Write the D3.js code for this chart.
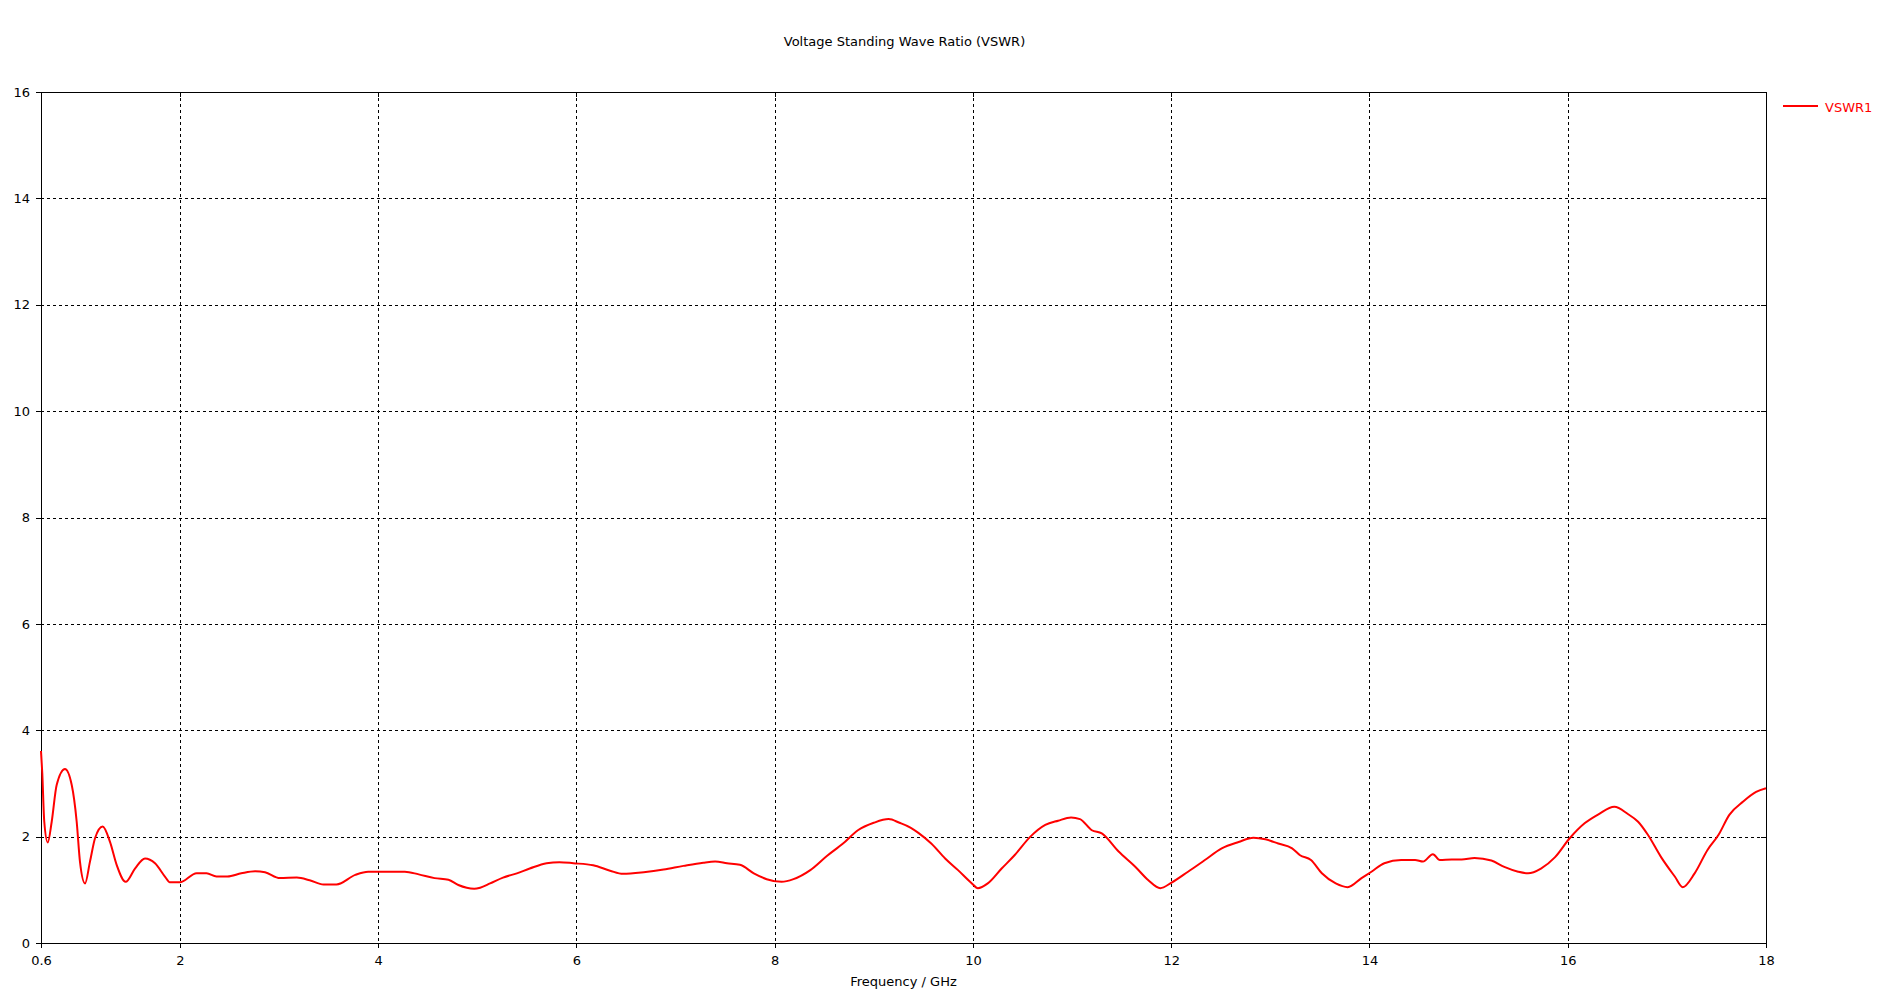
<!DOCTYPE html>
<html>
<head>
<meta charset="utf-8">
<title>VSWR</title>
<script src="https://cdn.jsdelivr.net/npm/d3@7"></script>
<style>
  html, body { margin: 0; padding: 0; background: #fff; overflow: hidden; }
  text { font-family: "DejaVu Sans", sans-serif; font-size: 13px; fill: #000; }
</style>
</head>
<body>
<div id="chart"></div>
<script>
// Values
const freqGHz = [
  0.6, 0.613, 0.633, 0.668, 0.708, 0.758, 0.842, 0.91, 0.96, 0.993,
  1.044, 1.094, 1.145, 1.222, 1.296, 1.363, 1.454, 1.548, 1.649, 1.75,
  1.85, 1.9, 2.0, 2.17, 2.27, 2.37, 2.48, 2.62, 2.76, 2.86,
  3.01, 3.18, 3.31, 3.45, 3.58, 3.77, 3.9, 4.27, 4.41, 4.57,
  4.71, 4.81, 4.97, 5.03, 5.13, 5.26, 5.4, 5.53, 5.7, 5.83,
  5.97, 6.17, 6.34, 6.47, 6.68, 6.88, 7.08, 7.28, 7.4, 7.52,
  7.65, 7.79, 7.92, 8.07, 8.19, 8.36, 8.53, 8.69, 8.84, 9.0,
  9.15, 9.26, 9.37, 9.45, 9.58, 9.72, 9.85, 9.99, 10.05, 10.15,
  10.29, 10.42, 10.58, 10.73, 10.86, 10.99, 11.08, 11.2, 11.3, 11.47,
  11.64, 11.77, 11.89, 12.0, 12.17, 12.34, 12.51, 12.68, 12.83, 12.95,
  13.08, 13.22, 13.3, 13.41, 13.52, 13.66, 13.78, 13.92, 14.02, 14.15,
  14.32, 14.46, 14.54, 14.64, 14.71, 14.83, 14.93, 15.06, 15.23, 15.36,
  15.5, 15.6, 15.73, 15.87, 16.02, 16.17, 16.31, 16.47, 16.61, 16.71,
  16.81, 16.94, 17.08, 17.16, 17.28, 17.41, 17.52, 17.63, 17.77, 17.9,
  18.0
];
const vswr1 = [
  3.61, 3.19, 2.28, 1.89, 2.28, 2.97, 3.27, 2.97, 2.28, 1.53,
  1.12, 1.53, 1.97, 2.19, 1.9, 1.47, 1.15, 1.4, 1.59, 1.5,
  1.25, 1.14, 1.14, 1.31, 1.31, 1.25, 1.25, 1.31, 1.35, 1.33,
  1.22, 1.23, 1.18, 1.1, 1.1, 1.28, 1.34, 1.34, 1.29, 1.22,
  1.19, 1.09, 1.02, 1.04, 1.12, 1.23, 1.31, 1.4, 1.5, 1.52,
  1.5, 1.46, 1.36, 1.3, 1.33, 1.38, 1.45, 1.51, 1.53, 1.5,
  1.47, 1.31, 1.2, 1.15, 1.2, 1.37, 1.64, 1.87, 2.12, 2.26,
  2.33, 2.26, 2.17, 2.07, 1.87, 1.59, 1.37, 1.12, 1.03, 1.12,
  1.4, 1.65, 2.0, 2.22, 2.3, 2.36, 2.33, 2.12, 2.06, 1.72,
  1.43, 1.18, 1.03, 1.13, 1.34, 1.56, 1.78, 1.9, 1.98, 1.95,
  1.87, 1.78, 1.65, 1.56, 1.31, 1.12, 1.05, 1.22, 1.34, 1.5,
  1.56, 1.56, 1.53, 1.67, 1.56, 1.57, 1.57, 1.6, 1.55, 1.43,
  1.34, 1.31, 1.4, 1.61, 1.97, 2.25, 2.42, 2.56, 2.42, 2.28,
  2.03, 1.62, 1.25, 1.05, 1.31, 1.75, 2.03, 2.41, 2.66, 2.84,
  2.91
];
const xTicks = [0.6, 2, 4, 6, 8, 10, 12, 14, 16, 18];
const yTicks = [0, 2, 4, 6, 8, 10, 12, 14, 16];
const seriesName = "VSWR1";

class VswrChart {
  constructor(_config) {
    this.config = {
      parentElement: _config.parentElement,
      width: 1893,
      height: 991,
      margin: { top: 92, bottom: 48, right: 127, left: 41 },
    };
    this.initVis();
  }

  initVis() {
    const vis = this;
    const c = vis.config;
    vis.innerW = c.width - c.margin.left - c.margin.right;
    vis.innerH = c.height - c.margin.top - c.margin.bottom;

    vis.svgRoot = d3
      .select(c.parentElement)
      .append("svg")
      .attr("width", c.width)
      .attr("height", c.height);

    vis.svg = vis.svgRoot
      .append("g")
      .attr("transform", `translate(${c.margin.left},${c.margin.top})`);

    vis.x = d3.scaleLinear().domain([0.6, 18]).range([0, vis.innerW]);
    vis.y = d3.scaleLinear().domain([0, 16]).range([vis.innerH, 0]);

    // Title
    vis.svgRoot
      .append("text")
      .attr("x", c.margin.left + vis.innerW / 2 + 1)
      .attr("y", 46)
      .attr("text-anchor", "middle")
      .text("Voltage Standing Wave Ratio (VSWR)");

    // X axis label, kept just inside the bottom edge
    vis.svgRoot
      .append("text")
      .attr("x", c.margin.left + vis.innerW / 2)
      .attr("y", 986)
      .attr("text-anchor", "middle")
      .text("Frequency / GHz");

    vis.updateVis();
  }

  updateVis() {
    const vis = this;

    // Dashed grid
    const grid = vis.svg.append("g").attr("class", "grid");
    grid
      .selectAll("line.vgrid")
      .data(xTicks.filter((d) => d > 0.6 && d < 18))
      .join("line")
      .attr("class", "vgrid")
      .attr("x1", (d) => Math.round(vis.x(d)) + 0.5)
      .attr("x2", (d) => Math.round(vis.x(d)) + 0.5)
      .attr("y1", 0)
      .attr("y2", vis.innerH)
      .attr("stroke", "#000")
      .attr("stroke-dasharray", "3,3")
      .attr("shape-rendering", "crispEdges");
    grid
      .selectAll("line.hgrid")
      .data(yTicks.filter((d) => d > 0 && d < 16))
      .join("line")
      .attr("class", "hgrid")
      .attr("x1", 0)
      .attr("x2", vis.innerW)
      .attr("y1", (d) => Math.round(vis.y(d)) + 0.5)
      .attr("y2", (d) => Math.round(vis.y(d)) + 0.5)
      .attr("stroke", "#000")
      .attr("stroke-dasharray", "3,3")
      .attr("shape-rendering", "crispEdges");

    // Axes
    const xAxis = vis.svg
      .append("g")
      .attr("transform", `translate(0,${vis.innerH})`)
      .call(
        d3.axisBottom(vis.x).tickValues(xTicks).tickSize(5).tickPadding(8)
          .tickFormat((d) => (d === 0.6 ? "0.6" : d3.format("d")(d)))
      );
    const yAxis = vis.svg
      .append("g")
      .call(d3.axisLeft(vis.y).tickValues(yTicks).tickSize(5).tickPadding(6));
    const topAxis = vis.svg
      .append("g")
      .call(d3.axisTop(vis.x).tickValues(xTicks).tickSize(-5).tickFormat(""));
    const rightAxis = vis.svg
      .append("g")
      .attr("transform", `translate(${vis.innerW},0)`)
      .call(d3.axisRight(vis.y).tickValues(yTicks).tickSize(-5).tickFormat(""));

    [xAxis, yAxis, topAxis, rightAxis].forEach((a) => {
      a.selectAll("path, line").attr("stroke", "#000").attr("shape-rendering", "crispEdges");
      a.selectAll("text").style("font-family", "DejaVu Sans, sans-serif").style("font-size", "13px");
    });

    // VSWR curve
    const points = freqGHz.map((f, i) => ({ f: f, v: vswr1[i] }));
    vis.svg
      .append("path")
      .datum(points)
      .attr(
        "d",
        d3
          .line()
          .x((d) => vis.x(d.f))
          .y((d) => vis.y(d.v))
          .curve(d3.curveMonotoneX)
      )
      .attr("fill", "none")
      .attr("stroke", "#ff0000")
      .attr("stroke-width", 2);

    // Legend
    const legend = vis.svgRoot
      .append("g")
      .attr("transform", `translate(${vis.config.margin.left + vis.innerW + 17},106)`);
    legend
      .append("line")
      .attr("x1", 0)
      .attr("x2", 35)
      .attr("y1", 0)
      .attr("y2", 0)
      .attr("stroke", "#ff0000")
      .attr("stroke-width", 2);
    legend
      .append("text")
      .attr("x", 42)
      .attr("y", 6)
      .style("fill", "#ff0000")
      .text(seriesName);
  }
}

new VswrChart({ parentElement: "#chart" });
</script>
</body>
</html>
